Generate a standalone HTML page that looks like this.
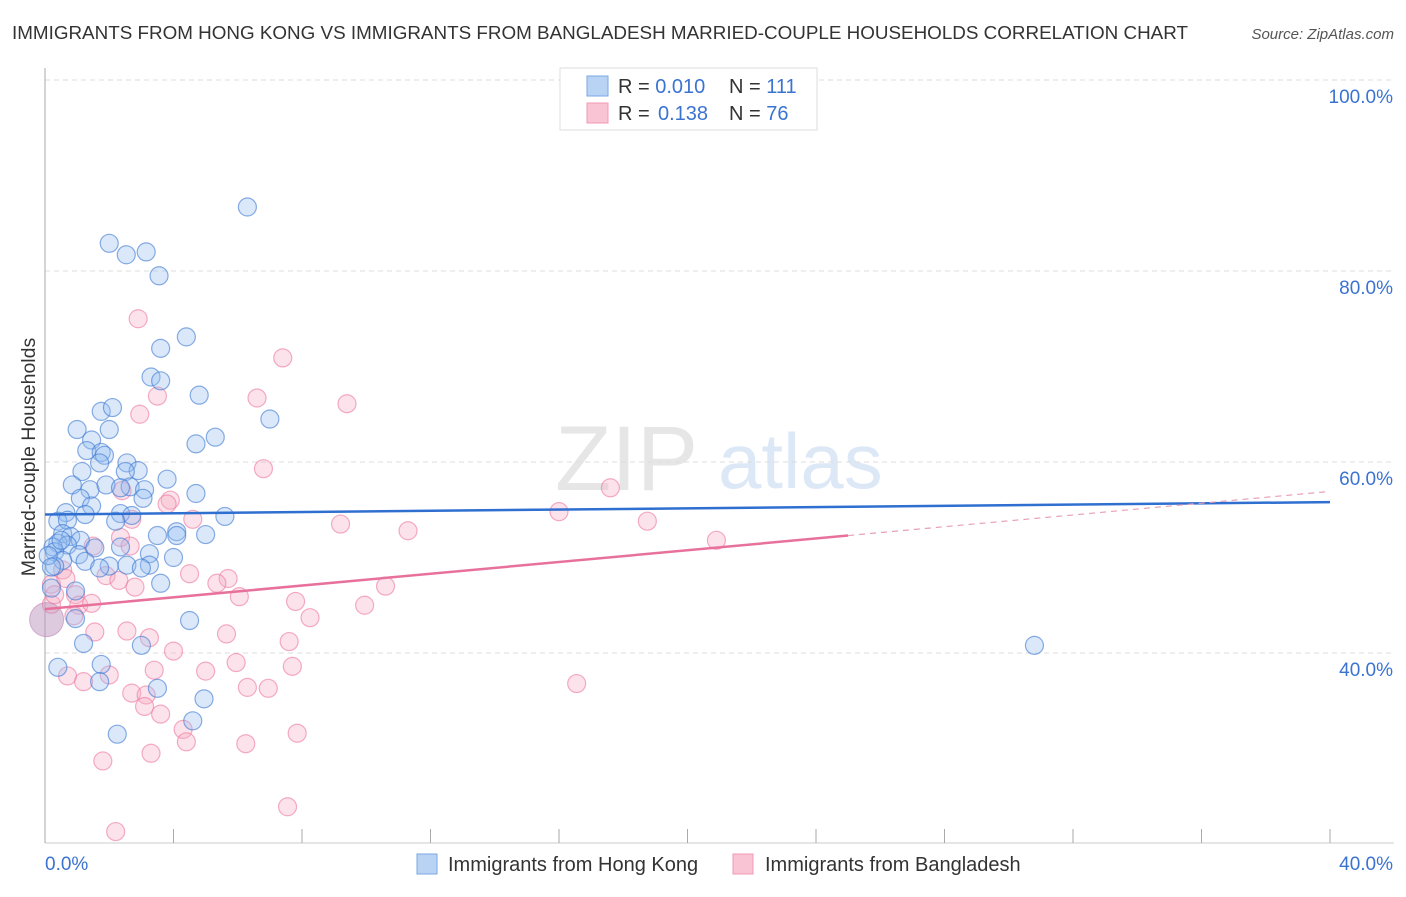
<!DOCTYPE html>
<html><head><meta charset="utf-8"><style>
body{margin:0;background:#fff;font-family:"Liberation Sans",sans-serif;}
svg text{font-family:"Liberation Sans",sans-serif;}
</style></head><body>
<svg id="chart" width="1406" height="892" xmlns="http://www.w3.org/2000/svg">
<text x="12" y="39" font-size="18.8" fill="#333" textLength="1176" lengthAdjust="spacingAndGlyphs">IMMIGRANTS FROM HONG KONG VS IMMIGRANTS FROM BANGLADESH MARRIED-COUPLE HOUSEHOLDS CORRELATION CHART</text>
<text x="1394" y="39" font-size="15" fill="#555" text-anchor="end" font-style="italic">Source: ZipAtlas.com</text>
<g opacity="0.18">
<text x="555" y="490" font-size="92" fill="#777" font-family="Liberation Serif">ZIP</text>
<text x="718" y="488" font-size="78" fill="#4a86d8">atlas</text>
</g>
<g id="grid"></g>
<g id="axes"></g>
<g id="pts-pink"></g>
<g id="pts-blue"></g>
<g id="trends"></g>
<text transform="translate(35,457) rotate(-90)" font-size="19.5" fill="#333" text-anchor="middle">Married-couple Households</text>
<g>
<rect x="560" y="68" width="257" height="62" fill="#fff" stroke="#ddd"/>
<rect x="587" y="76" width="21" height="20" fill="#b9d3f5" stroke="#7aa7e6"/>
<rect x="587" y="103" width="21" height="20" fill="#f9c4d4" stroke="#f09ab5"/>
<text x="618" y="93" font-size="20" fill="#333">R = <tspan fill="#3b73d1">0.010</tspan></text>
<text x="729" y="93" font-size="20" fill="#333">N = <tspan fill="#3b73d1">111</tspan></text>
<text x="618" y="120" font-size="20" fill="#333">R = </text><text x="658" y="120" font-size="20" fill="#3b73d1">0.138</text>
<text x="729" y="120" font-size="20" fill="#333">N = <tspan fill="#3b73d1">76</tspan></text>
</g>
<g>
<rect x="417" y="854" width="20" height="20" fill="#b9d3f5" stroke="#7aa7e6"/>
<text x="448" y="871" font-size="20" fill="#333">Immigrants from Hong Kong</text>
<rect x="733" y="854" width="20" height="20" fill="#f9c4d4" stroke="#f09ab5"/>
<text x="765" y="871" font-size="20" fill="#333">Immigrants from Bangladesh</text>
</g>
</svg>
<script>
const blueX=[6.3,2.0,3.15,2.53,3.55,4.4,3.6,3.3,3.6,4.8,1.75,2.1,7.0,1.0,2.0,1.45,5.3,4.7,1.3,1.75,1.85,2.55,1.7,1.15,2.9,2.5,3.8,0.85,1.4,1.9,2.65,2.35,3.1,4.7,1.1,3.05,1.45,0.65,1.25,2.35,2.7,5.6,0.4,0.7,2.2,3.5,4.1,4.1,5.0,0.55,0.8,1.1,0.4,0.7,0.25,1.55,2.35,0.3,3.25,1.05,0.55,1.25,2.0,2.55,3.25,1.7,3.0,4.0,0.3,3.6,0.2,0.95,4.5,0.95,1.2,3.0,0.4,1.75,3.5,1.7,4.95,4.6,2.25,30.8,0.1,0.2,0.5];
const blueY=[86.7,82.9,82.0,81.7,79.5,73.1,71.9,68.9,68.5,67.0,65.3,65.7,64.5,63.4,63.4,62.3,62.6,61.9,61.2,61.0,60.7,59.9,59.9,59.0,59.1,59.0,58.2,57.6,57.1,57.6,57.4,57.3,57.1,56.7,56.2,56.2,55.4,54.7,54.5,54.6,54.4,54.3,53.8,53.9,53.8,52.3,52.7,52.3,52.4,52.5,52.2,51.8,51.5,51.3,51.1,51.0,51.1,50.6,50.4,50.3,49.7,49.6,49.1,49.2,49.2,48.9,48.9,50.0,49.1,47.3,46.8,46.5,43.4,43.6,41.0,40.8,38.5,38.8,36.3,37.0,35.2,32.9,31.5,40.8,50.2,49.0,51.8];
const pinkX=[2.9,7.4,9.4,3.5,6.6,2.95,6.8,17.6,2.4,3.9,3.8,4.6,16.0,18.75,9.2,11.3,20.9,2.7,2.35,1.5,2.65,0.55,1.9,4.5,5.7,5.35,2.3,10.6,2.8,0.2,0.65,6.05,0.95,7.8,9.95,1.05,1.45,8.25,0.9,1.55,2.55,5.65,3.25,7.6,4.0,5.95,7.7,3.4,5.0,0.7,1.2,2.0,16.55,6.3,6.95,2.7,3.15,3.1,3.6,4.3,4.4,7.85,6.25,3.3,1.8,7.55,2.2,0.2,0.3];
const pinkY=[75.0,70.9,66.1,66.9,66.7,65.0,59.3,57.3,57.0,56.0,55.6,54.0,54.8,53.8,53.5,52.8,51.8,54.0,52.1,51.2,51.2,48.7,48.1,48.3,47.8,47.3,47.6,47.0,46.9,47.2,47.8,45.9,46.1,45.4,45.0,45.0,45.2,43.7,43.9,42.2,42.3,42.0,41.6,41.2,40.2,39.0,38.6,38.2,38.1,37.6,37.0,37.7,36.8,36.4,36.3,35.8,35.6,34.4,33.6,32.0,30.7,31.6,30.5,29.5,28.7,23.9,21.3,45.1,46.1];
const bigX=[0.05];const bigY=[43.5];
const blueTrend=[54.5,55.8];
const pinkTrend=[44.6,52.3,25.0];
const yTicks=[100,80,60,40];
const yTickLabels=["100.0%","80.0%","60.0%","40.0%"];
const xTicks=[0,4,8,12,16,20,24,28,32,36,40];
const NS="http://www.w3.org/2000/svg";
const X=v=>45+v/40*1285;
const Y=v=>80+(100-v)*9.55;
function mk(tag,attrs,parent){const e=document.createElementNS(NS,tag);for(const k in attrs)e.setAttribute(k,attrs[k]);document.getElementById(parent).appendChild(e);return e;}
yTicks.forEach((t,i)=>{
 const l=mk('line',{x1:45,x2:1394,y1:Y(t),y2:Y(t),stroke:'#ddd','stroke-dasharray':'5,4'},'grid');
 
 
 const tx=mk('text',{x:1393,y:Y(t)+23,'font-size':19,fill:'#3b73d1','text-anchor':'end'},'axes');
 tx.textContent=yTickLabels[i];
 
 
});
const ax=mk('line',{x1:45,x2:45,y1:68,y2:843,stroke:'#aaa'},'axes');


const bx=mk('line',{x1:45,x2:1394,y1:843,y2:843,stroke:'#ccc'},'axes');


xTicks.forEach(t=>{
 const l=mk('line',{x1:X(t),x2:X(t),y1:829,y2:843,stroke:'#aaa'},'axes');
 
 
});
const xl0=mk('text',{x:45,y:870,'font-size':19,fill:'#3b73d1'},'axes');xl0.textContent='0.0%';


const xl1=mk('text',{x:1393,y:870,'font-size':19,fill:'#3b73d1','text-anchor':'end'},'axes');xl1.textContent='40.0%';


pinkX.forEach((x,i)=>{
 const c=mk('circle',{cx:X(x),cy:Y(pinkY[i]),r:9,fill:'rgba(247,172,196,0.35)',stroke:'rgba(236,120,160,0.6)','stroke-width':1.2},'pts-pink');
 
 
});
bigX.forEach((x,i)=>{
 const c=mk('circle',{cx:X(x),cy:Y(bigY[i]),r:17,fill:'rgba(190,150,190,0.5)',stroke:'rgba(190,130,180,0.6)'},'pts-pink');
 
 
});
blueX.forEach((x,i)=>{
 const c=mk('circle',{cx:X(x),cy:Y(blueY[i]),r:9,fill:'rgba(150,190,240,0.35)',stroke:'rgba(60,120,210,0.6)','stroke-width':1.2},'pts-blue');
 
 
});
const bt=mk('line',{x1:X(0),y1:Y(blueTrend[0]),x2:X(40),y2:Y(blueTrend[1]),stroke:'#2f6fd0','stroke-width':2.5},'trends');


const slope=(pinkTrend[1]-pinkTrend[0])/pinkTrend[2];
const pt=mk('line',{x1:X(0),y1:Y(pinkTrend[0]),x2:X(pinkTrend[2]),y2:Y(pinkTrend[1]),stroke:'#e8719c','stroke-width':2.5},'trends');


const pd=mk('line',{x1:X(pinkTrend[2]),y1:Y(pinkTrend[1]),x2:X(40),y2:Y(pinkTrend[0]+slope*40),stroke:'#e8a0b8','stroke-width':1.2,'stroke-dasharray':'6,5'},'trends');


</script>
</body></html>
